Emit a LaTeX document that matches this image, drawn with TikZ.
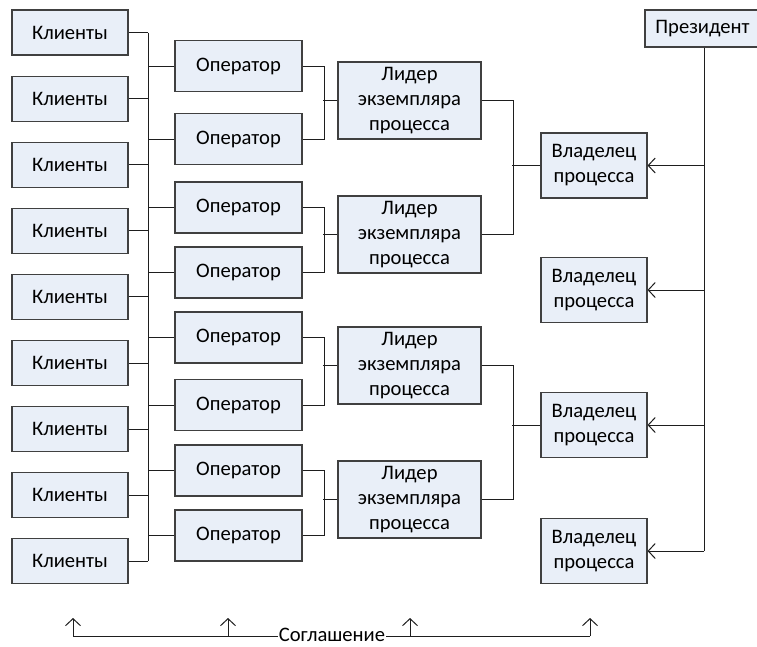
\documentclass[tikz,border=0pt]{standalone}
\usepackage{fontspec}
\setmainfont{Carlito}
\usetikzlibrary{arrows.meta,calc}
\definecolor{boxfill}{RGB}{233,239,248}
\definecolor{boxline}{RGB}{64,64,64}
\definecolor{wire}{RGB}{30,30,30}
\tikzset{
  base/.style={draw=boxline, line width=1.1pt, fill=boxfill, inner sep=0pt, align=center,
    font=\fontsize{20.6}{25}\selectfont},
  client/.style={base, minimum width=116pt, minimum height=45pt},
  oper/.style={base, minimum width=127pt, minimum height=51pt},
  leader/.style={base, minimum width=143pt, minimum height=77pt},
  owner/.style={base, minimum width=106pt, minimum height=65pt},
  pres/.style={base, minimum width=130pt, minimum height=37pt},
  wire/.style={draw=wire, line width=1pt},
  barb/.style={wire, -{Straight Barb[length=7pt,width=15pt,line width=1pt]}},
}
\begin{document}
\begin{tikzpicture}[x=1pt,y=-1pt]
\useasboundingbox (0,0) rectangle (757,646);
\clip (0,0) rectangle (757,646);
% clients
\foreach \k in {1,...,9}{
  \node[client] (c\k) at (70, {32.5+66.1*(\k-1)}) {Клиенты};
}
% operators
\node[oper] (o1) at (238.5,66) {Оператор};
\node[oper] (o2) at (238.5,139) {Оператор};
\node[oper] (o3) at (238.5,207.5) {Оператор};
\node[oper] (o4) at (238.5,272.5) {Оператор};
\node[oper] (o5) at (238.5,337.5) {Оператор};
\node[oper] (o6) at (238.5,405) {Оператор};
\node[oper] (o7) at (238.5,470.5) {Оператор};
\node[oper] (o8) at (238.5,535.5) {Оператор};
% leaders
\node[leader] (l1) at (409.5,100.5) {Лидер\\экземпляра\\процесса};
\node[leader] (l2) at (409.5,234.5) {Лидер\\экземпляра\\процесса};
\node[leader] (l3) at (409.5,365.5) {Лидер\\экземпляра\\процесса};
\node[leader] (l4) at (409.5,499.5) {Лидер\\экземпляра\\процесса};
% owners
\node[owner] (w1) at (594,165.5) {Владелец\\процесса};
\node[owner] (w2) at (594,290) {Владелец\\процесса};
\node[owner] (w3) at (594,425) {Владелец\\процесса};
\node[owner] (w4) at (594,551) {Владелец\\процесса};
% president (box runs past the right edge)
\node[pres] (p) at (710,28.5) {\hspace*{-15pt}Президент};
% bus
\coordinate (bus) at (148,0);
\draw[wire] (c1.east -| bus) -- (c9.east -| bus);
\foreach \k in {1,...,9}{ \draw[wire] (c\k.east) -- (c\k.east -| bus); }
\foreach \k in {1,...,8}{ \draw[wire] (o\k.west) -- (o\k.west -| bus); }
% operator pairs to leaders
\foreach \a/\b/\l in {o1/o2/l1, o3/o4/l2, o5/o6/l3, o7/o8/l4}{
  \draw[wire] (\a.east) -- ++(22,0) |- (\b.east);
  \draw[wire] (\l.west) -- ++(-14,0);
}
% leaders to owners
\draw[wire] (l1.east) -- ++(32,0) |- (l2.east);
\draw[wire] (w1.west) -- ++(-28,0);
\draw[wire] (l3.east) -- ++(32,0) |- (l4.east);
\draw[wire] (w3.west) -- ++(-28,0);
% president to owners
\coordinate (pv) at (704,0);
\draw[wire] (p.south -| pv) -- (w4.east -| pv);
\foreach \k in {1,...,4}{ \draw[barb] (w\k.east -| pv) -- (w\k.east); }
% agreement
\node[font=\fontsize{20.6}{24}\selectfont, inner sep=1pt] (agr) at (332,634.5) {Соглашение};
\coordinate (a1) at (73,636);
\coordinate (a2) at (228,636);
\coordinate (a3) at (410,636);
\coordinate (a4) at (590,636);
\draw[wire] (agr.west |- a1) -- (a1);
\draw[wire] (agr.east |- a4) -- (a4);
\foreach \k in {1,...,4}{ \draw[barb] (a\k) -- ++(0,-18); }
\end{tikzpicture}
\end{document}
